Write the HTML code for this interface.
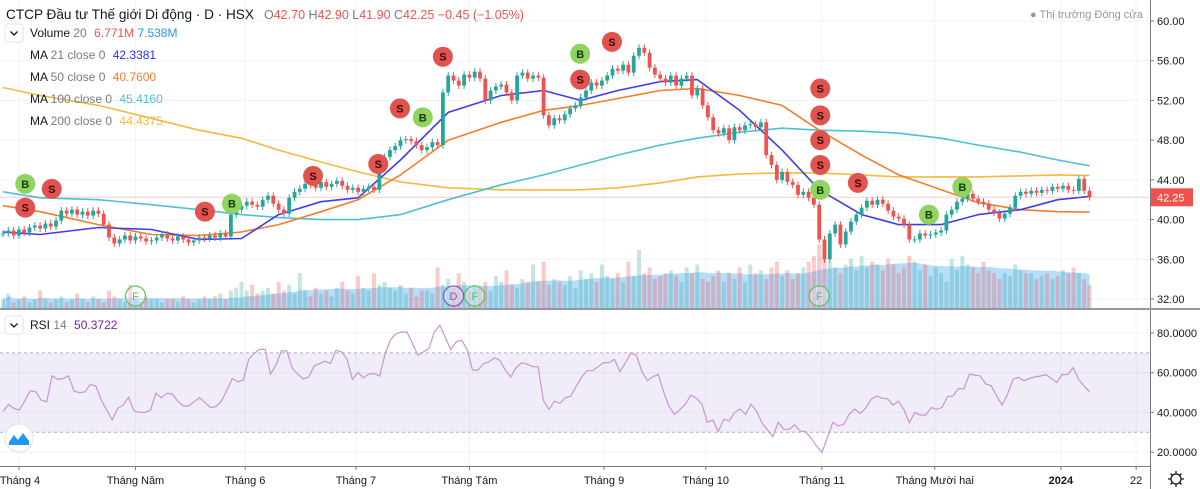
<!DOCTYPE html>
<html><head><meta charset="utf-8"><style>
body{margin:0;background:#fff;}
svg{display:block;font-family:"Liberation Sans","DejaVu Sans",sans-serif;}
</style></head><body>
<svg id="chart" width="1200" height="489" viewBox="0 0 1200 489" xmlns="http://www.w3.org/2000/svg">
<g id="grid"></g>
<g id="volume"></g>
<g id="mas"></g>
<g id="candles"></g>
<g id="markers"></g>
<g id="rsi"></g>
<g id="axes"></g>
<g id="legend">
<text x="6" y="19" font-size="13.6" fill="#131722">CTCP Đầu tư Thế giới Di động · D · HSX</text>
<text x="264" y="19" font-size="12.5" fill="#787b86">O<tspan fill="#ef5350">42.70</tspan> H<tspan fill="#ef5350">42.90</tspan> L<tspan fill="#ef5350">41.90</tspan> C<tspan fill="#ef5350">42.25 −0.45 (−1.05%)</tspan></text>
<text x="1030" y="18" font-size="11" fill="#9598a1">● Thị trường Đóng cửa</text>
<rect x="5" y="24" width="18" height="18" rx="3" fill="#fff" stroke="#e0e3eb"/>
<path d="M10.5 31.5 L14 35 L17.5 31.5" fill="none" stroke="#131722" stroke-width="1.3"/>
<text x="30" y="37" font-size="12" fill="#131722">Volume <tspan fill="#787b86">20</tspan> <tspan fill="#ef5350" dx="4">6.771M</tspan> <tspan fill="#2196f3">7.538M</tspan></text>
<text x="30" y="59" font-size="12" fill="#131722">MA <tspan fill="#787b86">21 close 0</tspan> <tspan fill="#2a2ef0" dx="4">42.3381</tspan></text>
<text x="30" y="81" font-size="12" fill="#131722">MA <tspan fill="#787b86">50 close 0</tspan> <tspan fill="#f57c2a" dx="4">40.7600</tspan></text>
<text x="30" y="103" font-size="12" fill="#131722">MA <tspan fill="#787b86">100 close 0</tspan> <tspan fill="#4dc0d6" dx="4">45.4160</tspan></text>
<text x="30" y="125" font-size="12" fill="#131722">MA <tspan fill="#787b86">200 close 0</tspan> <tspan fill="#f6b93b" dx="4">44.4375</tspan></text>
<rect x="5" y="316" width="18" height="18" rx="3" fill="#fff" stroke="#e0e3eb"/>
<path d="M10.5 323.5 L14 327 L17.5 323.5" fill="none" stroke="#131722" stroke-width="1.3"/>
<text x="30" y="329" font-size="12" fill="#131722">RSI <tspan fill="#787b86">14</tspan> <tspan fill="#7b1fa2" dx="4">50.3722</tspan></text>
<g><circle cx="19" cy="438" r="14" fill="#fff" stroke="#e0e3eb"/><path d="M9 442 L14 435 L18 440 L23 433 L29 441 L29 445 L9 445Z" fill="#2196f3"/></g>
<g><circle cx="1176" cy="479" r="5" fill="none" stroke="#131722" stroke-width="1.3"/><path d="M1176 471v3M1176 484v3M1168 479h3M1181 479h3M1170.5 473.5l2 2M1179.5 482.5l2 2M1170.5 484.5l2-2M1179.5 475.5l2-2" stroke="#131722" stroke-width="1.3"/></g>
</g>
</svg>
<script>
const closes=[38.6,38.9,38.4,39.0,38.7,39.2,39.4,39.1,39.6,39.3,39.9,40.9,40.6,41.0,40.5,40.8,40.4,40.9,40.6,39.5,38.2,37.6,38.0,38.4,37.9,38.3,38.1,37.8,37.9,38.2,38.5,38.1,37.9,38.3,38.0,37.7,37.9,38.2,38.1,38.4,38.2,38.6,38.3,40.5,41.0,41.4,41.8,41.5,41.3,42.0,42.4,41.6,41.0,40.6,42.2,42.8,43.1,43.6,43.5,43.2,43.8,43.3,43.6,43.9,43.4,43.0,43.2,42.8,43.1,43.3,43.0,45.5,46.3,47.0,47.4,48.0,48.1,47.9,47.5,47.0,47.3,47.8,47.5,52.8,54.5,54.0,53.5,54.6,54.3,54.9,54.2,52.0,53.0,53.4,53.6,52.8,52.0,54.5,54.8,54.2,54.5,54.3,50.5,49.5,50.2,50.0,50.6,51.2,51.5,52.3,53.0,53.8,53.5,54.0,54.5,55.2,55.0,55.6,54.8,56.5,57.3,56.8,55.3,54.6,54.2,53.8,54.5,53.5,54.2,54.5,52.5,53.2,51.5,50.3,49.0,48.7,49.2,48.0,49.3,49.0,49.5,49.6,49.3,49.8,46.5,45.5,44.0,44.8,43.8,43.5,42.5,42.8,42.2,41.5,38.0,36.0,38.6,39.5,37.5,38.8,39.8,40.5,41.2,41.9,41.5,42.0,41.6,40.9,40.3,40.1,39.5,38.0,38.0,38.6,38.4,38.5,38.7,38.9,40.5,41.0,41.8,42.1,42.6,42.1,41.8,41.6,41.0,40.7,40.1,40.6,41.2,42.4,42.8,42.6,42.9,42.7,43.0,42.9,43.3,43.1,43.4,43.0,42.9,44.1,42.9,42.25];
const volumes=[3,5,2,3,4,2,3,6,3,2,3,4,2,3,5,3,2,4,3,2,6,4,3,2,8,3,2,4,3,3,2,3,3,2,4,3,2,3,4,3,4,5,3,6,7,9,6,8,5,6,7,5,9,6,8,5,12,6,4,7,5,6,4,7,9,6,5,11,7,6,12,8,9,7,6,8,5,7,4,6,6,5,14,8,10,7,12,9,6,8,7,9,6,11,9,13,8,7,10,9,15,9,16,8,10,9,8,11,7,13,10,12,9,15,11,10,12,9,16,11,20,12,14,10,11,12,13,11,9,14,12,15,10,9,11,13,9,12,10,14,9,15,12,13,10,14,16,11,13,10,12,14,16,18,22,17,16,14,12,15,17,13,18,14,16,15,13,17,15,12,14,18,16,13,15,11,14,12,9,17,13,18,15,14,12,16,13,12,10,12,11,15,13,12,12,10,11,12,10,11,13,12,14,12,10,8];
const maBars=[0,7,18,28,37,45,52,60,67,75,84,94,102,109,116,124,131,139,147,154,162,169,177,184,192,199,205];
const ma21=[38.75,38.5,39.2,39,38,38.1,40.5,41.8,42.2,46,50.8,52.5,53,52,53,53.9,54.1,51,47,43,40.5,39.5,39.5,40.5,41,42,42.34];
const ma50=[41.4,40.8,39.5,38.5,38.4,38.75,39.5,40.8,42,44.5,48,49.8,51,51.5,52.2,53,53.2,52.5,51.5,49,46.5,44.5,43,41.7,41,40.8,40.76];
const ma100=[42.8,42.2,42,41.5,41,40.5,40.2,40,40,40.5,42,43.5,44.5,45.5,46.5,47.5,48.2,48.8,49.2,49,48.9,48.7,48.2,47.5,46.8,46,45.42];
const ma200=[53.3,52.5,51.5,50.2,49,48.2,47,45.8,44.8,43.8,43.2,43,43,43,43.2,43.7,44.3,44.6,44.7,44.7,44.5,44.3,44.3,44.3,44.4,44.5,44.44];
const rsiValues=[40.4,44,42,41.2,45.9,50.9,50.4,46.2,45.4,58.4,56.6,57.1,58.4,50.8,49.9,50.4,54.1,53.3,46.2,41.2,36.2,42,43.7,47.6,40.7,40,40,41.2,49.6,47.4,49.6,49.2,45.7,43.2,43.2,45.4,47.4,44.9,42.4,42.9,45.7,51.3,57.1,55.4,56.3,66.7,69.7,71.8,71.8,59.3,63.8,71,71,62.1,59.3,56.8,57.9,63.3,64.6,65.8,64.6,71.3,70.5,66.8,56.6,60.1,57.4,59.3,59.6,58.3,69.7,76.7,79.7,80.5,80.5,74.7,68.8,70.5,72.2,80.5,83.9,78,71.7,75.5,76.4,71.7,61.3,61.3,64.6,65.5,67.5,66.3,61.3,57.9,62.6,65,64.3,63,63,45.9,41.5,45.7,44.6,47.4,48.2,53.3,57.9,61,61,63,65.1,65.1,66.7,60.5,65,70,68.8,60.8,55.9,57.9,59.1,50.4,42.9,39,41.5,44.2,48.7,47.1,44.2,35,36.2,30.3,36.5,35.7,40,41.7,39,44.1,40.7,34.8,31.2,27.8,35,31.5,31.5,33.7,30.7,30.3,27,23.1,19.8,27.3,35,33.2,34,39.2,41.7,39.5,42.1,46.6,48.2,47.1,46.9,43.7,45.7,41.5,34.8,40,38.7,38.7,42.4,41.5,42.5,47.9,48.2,52.1,51.8,59.3,58.8,58.4,54.3,53.4,48.2,43.7,49.2,56.8,57.6,55.9,57.1,57.9,58.3,59.1,57.1,55.1,59.1,59.1,62.6,56.6,53.3,50.4];
const priceTicks=[60,56,52,48,44,40,36,32];
const rsiTicks=[80,60,40,20];
const monthLabels=["Tháng 4","Tháng Năm","Tháng 6","Tháng 7","Tháng Tám","Tháng 9","Tháng 10","Tháng 11","Tháng Mười hai","2024","22"];
const monthBars=[3,25,45.7,66.6,88,113.4,132.6,154.5,175.8,199.6,213.8];
const markerBars=[4.2,4.2,9.2,38.1,43.2,58.5,70.8,74.9,79.2,83,108.9,108.9,114.9,154.2,154.2,154.2,154.2,154.2,161.3,174.7,181];
const markerPrices=[43.6,41.2,43.1,40.8,41.6,44.4,45.6,51.2,50.3,56.4,56.7,54.1,57.9,53.2,50.5,48,45.5,43,43.7,40.5,43.3];
const markerTypes=["B","S","S","S","B","S","S","S","B","S","B","S","S","S","S","S","S","B","S","B","B"];
const eventBars=[25,85,89,154];
const eventTypes=["F","D","F","F"];
const lastPrice=42.25;

const NS="http://www.w3.org/2000/svg";
const xS=i=>3+i*5.3;
const yP=p=>21+(60-p)*9.93;
const yR=v=>333+(80-v)*1.985;
const yV=v=>308-v*2.9;
function mk(tag,attrs,parent){const e=document.createElementNS(NS,tag);for(const k in attrs)e.setAttribute(k,attrs[k]);parent.appendChild(e);return e;}
const G=id=>document.getElementById(id);

const grid=G('grid');
priceTicks.forEach(t=>{const l=mk('line',{x1:0,x2:1150,y1:yP(t),y2:yP(t),stroke:'#f0f3fa'},grid);

});
rsiTicks.forEach(t=>{const l=mk('line',{x1:0,x2:1150,y1:yR(t),y2:yR(t),stroke:'#f0f3fa'},grid);

});
monthBars.forEach(b=>{const l=mk('line',{x1:xS(b),x2:xS(b),y1:0,y2:466,stroke:'#f0f3fa'},grid);

});

const vol=G('volume');
const N=closes.length;
const opens=closes.map((c,i)=>i===0?c:closes[i-1]);
let volMA=[];
for(let i=0;i<N;i++){let s=0,n=0;for(let j=Math.max(0,i-19);j<=i;j++){s+=volumes[j];n++;}volMA.push(s/n);}
let ap='M'+xS(0)+' 308';
volMA.forEach((v,i)=>{ap+=' L'+xS(i).toFixed(1)+' '+yV(v).toFixed(1);});
ap+=' L'+xS(N-1)+' 308Z';
const area=mk('path',{d:ap,fill:'rgba(33,150,243,0.32)'},vol);


volumes.forEach((v,i)=>{const up=closes[i]>=opens[i];
const r=mk('rect',{x:xS(i)-2,y:yV(v),width:4,height:308-yV(v),fill:up?'rgba(38,166,154,0.28)':'rgba(239,83,80,0.3)'},vol);

});

const mas=G('mas');
[[ma200,'#f6b93b','ma200-line'],[ma100,'#4dc0d6','ma100-line'],[ma50,'#f57c2a','ma50-line'],[ma21,'#3d3df0','ma21-line']].forEach(([arr,col,name])=>{
let d='';arr.forEach((v,k)=>{d+=(k?' L':'M')+xS(maBars[k]).toFixed(1)+' '+yP(v).toFixed(1);});
const p=mk('path',{d:d,fill:'none',stroke:col,'stroke-width':1.6,'stroke-linejoin':'round'},mas);

});
const pl=mk('line',{x1:0,x2:1150,y1:yP(lastPrice),y2:yP(lastPrice),stroke:'rgba(239,83,80,0.3)'},mas);



const cg=G('candles');
closes.forEach((c,i)=>{const o=opens[i];const up=c>=o;const col=up?'#26a69a':'#ef5350';
const hi=Math.max(o,c)+0.35,lo=Math.min(o,c)-0.35;const x=xS(i);
const g=mk('g',{},cg);


mk('line',{x1:x,x2:x,y1:yP(hi),y2:yP(lo),stroke:col,'stroke-width':1},g);
const top=yP(Math.max(o,c)),bot=yP(Math.min(o,c));
mk('rect',{x:x-1.9,y:top,width:3.8,height:Math.max(1,bot-top),fill:col},g);});

const mg=G('markers');
markerTypes.forEach((t,k)=>{const g=mk('g',{},mg);


const cx=xS(markerBars[k]),cy=yP(markerPrices[k]);
mk('circle',{cx:cx,cy:cy,r:10,fill:t==='B'?'#8fd460':'#e0534e'},g);
const tx=mk('text',{x:cx,y:cy+4,'text-anchor':'middle','font-size':11,'font-weight':'bold',fill:t==='B'?'#1b3a0c':'#3a0c0c'},g);tx.textContent=t;});
eventTypes.forEach((t,k)=>{const g=mk('g',{},mg);


const col=t==='D'?'#9c4fb0':'#5ec45a';const cx=xS(eventBars[k]);
mk('circle',{cx:cx,cy:296,r:10,fill:'rgba(255,255,255,0.3)',stroke:col,'stroke-width':1.3},g);
const tx=mk('text',{x:cx,y:300,'text-anchor':'middle','font-size':11,fill:col},g);tx.textContent=t;});

const rg=G('rsi');
const band=mk('rect',{x:0,y:yR(70),width:1150,height:yR(30)-yR(70),fill:'rgba(126,87,194,0.11)'},rg);


[70,30].forEach(v=>{const l=mk('line',{x1:0,x2:1150,y1:yR(v),y2:yR(v),stroke:'#b2a6bf','stroke-dasharray':'3 3'},rg);

});
let rd='';rsiValues.forEach((v,k)=>{const b=k*(N-1)/(rsiValues.length-1);rd+=(k?' L':'M')+xS(b).toFixed(1)+' '+yR(v).toFixed(1);});
const rl=mk('path',{d:rd,fill:'none',stroke:'#c994d4','stroke-width':1.2},rg);



const ax=G('axes');
mk('line',{x1:1150.5,x2:1150.5,y1:0,y2:489,stroke:'#787b86'},ax);
mk('line',{x1:0,x2:1200,y1:309,y2:309,stroke:'#9598a1','stroke-width':2},ax);
mk('line',{x1:0,x2:1150,y1:466.5,y2:466.5,stroke:'#787b86'},ax);
priceTicks.forEach(t=>{mk('line',{x1:1150,x2:1154,y1:yP(t),y2:yP(t),stroke:'#787b86'},ax);
const tx=mk('text',{x:1157,y:yP(t)+4,'font-size':11,fill:'#131722'},ax);tx.textContent=t.toFixed(2);

});
rsiTicks.forEach(t=>{mk('line',{x1:1150,x2:1154,y1:yR(t),y2:yR(t),stroke:'#787b86'},ax);
const tx=mk('text',{x:1157,y:yR(t)+4,'font-size':11,fill:'#131722',textLength:40,lengthAdjust:'spacingAndGlyphs'},ax);tx.textContent=t.toFixed(4);

});
monthLabels.forEach((m,k)=>{const x=xS(monthBars[k]);mk('line',{x1:x,x2:x,y1:466,y2:470,stroke:'#787b86'},ax);
const tx=mk('text',{x:Math.max(x,20),y:484,'font-size':11,'text-anchor':'middle',fill:'#131722','font-weight':m==='2024'?'bold':'normal'},ax);tx.textContent=m;

});
const lb=mk('rect',{x:1151,y:yP(lastPrice)-9,width:42,height:18,fill:'#ef5350'},ax);


const lt=mk('text',{x:1157,y:yP(lastPrice)+4,'font-size':11,fill:'#fff'},ax);lt.textContent=lastPrice.toFixed(2);
</script>
</body></html>
